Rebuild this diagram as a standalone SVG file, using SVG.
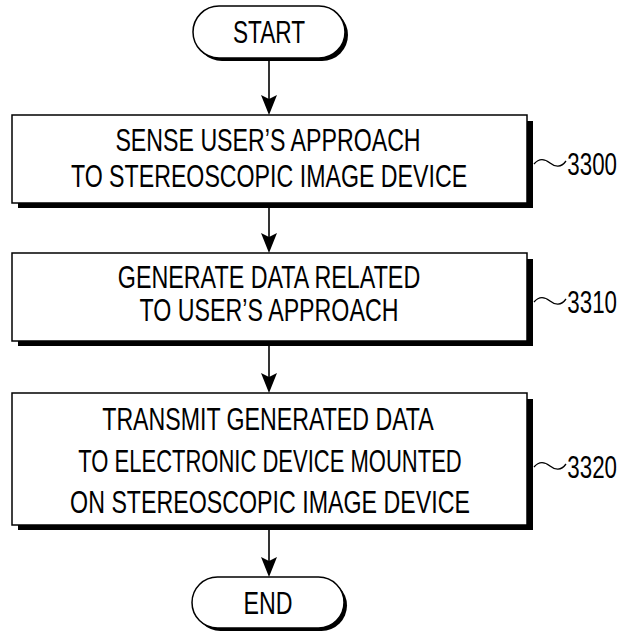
<svg xmlns="http://www.w3.org/2000/svg" width="623" height="635" viewBox="0 0 623 635">
<style>
.t{font-family:"Liberation Sans",Arial,sans-serif;font-size:31px;fill:#000;text-anchor:middle}
.n{font-family:"Liberation Sans",Arial,sans-serif;font-size:31px;fill:#000;text-anchor:end}
.box{fill:#fff;stroke:#000;stroke-width:1.5}
.sh{fill:#000}
.ln{stroke:#000;stroke-width:1.6;fill:none}
.tl{stroke:#000;stroke-width:1.3;fill:none}
.ah{fill:#000}
</style>
<rect width="623" height="635" fill="#fff"/>
<g id="connectors">
<line class="ln" x1="269" y1="60" x2="269" y2="110"/>
<path class="ah" d="M261,95 L269,99 L277,95 L269,115 Z"/>
<line class="ln" x1="269" y1="208" x2="269" y2="248"/>
<path class="ah" d="M261,233 L269,237 L277,233 L269,253 Z"/>
<line class="ln" x1="269" y1="346" x2="269" y2="388"/>
<path class="ah" d="M261,373 L269,377 L277,373 L269,393 Z"/>
<line class="ln" x1="269" y1="530" x2="269" y2="572"/>
<path class="ah" d="M261,557 L269,561 L277,557 L269,577 Z"/>
</g>
<g id="start">
<rect class="sh" x="196" y="9" width="152" height="52" rx="26"/>
<rect class="box" x="193" y="6" width="152" height="52" rx="26"/>
<text class="t" transform="translate(269,43) scale(0.73,1)">START</text>
</g>
<g id="s3300">
<rect class="sh" x="18" y="121" width="515" height="87"/>
<rect class="box" x="12" y="115" width="515" height="88"/>
<text class="t" transform="translate(268,151) scale(0.748,1)">SENSE USER’S APPROACH</text>
<text class="t" transform="translate(269,187) scale(0.748,1)">TO STEREOSCOPIC IMAGE DEVICE</text>
<path class="tl" d="M534,164 C539,158 545,159 550,163 S561,168 566,161"/>
<text class="n" transform="translate(617,175) scale(0.72,1)">3300</text>
</g>
<g id="s3310">
<rect class="sh" x="18" y="259" width="515" height="87"/>
<rect class="box" x="12" y="253" width="515" height="88"/>
<text class="t" transform="translate(269,288) scale(0.752,1)">GENERATE DATA RELATED</text>
<text class="t" transform="translate(269,321) scale(0.749,1)">TO USER’S APPROACH</text>
<path class="tl" d="M534,302 C539,296 545,297 550,301 S561,306 566,299"/>
<text class="n" transform="translate(617,313) scale(0.72,1)">3310</text>
</g>
<g id="s3320">
<rect class="sh" x="18" y="399" width="515" height="131"/>
<rect class="box" x="12" y="393" width="515" height="132"/>
<text class="t" transform="translate(268,430) scale(0.747,1)">TRANSMIT GENERATED DATA</text>
<text class="t" transform="translate(270,472) scale(0.71,1)">TO ELECTRONIC DEVICE MOUNTED</text>
<text class="t" transform="translate(270,513) scale(0.749,1)">ON STEREOSCOPIC IMAGE DEVICE</text>
<path class="tl" d="M534,467 C539,461 545,462 550,466 S561,471 566,464"/>
<text class="n" transform="translate(617,478) scale(0.72,1)">3320</text>
</g>
<g id="end">
<rect class="sh" x="195" y="580" width="152" height="51" rx="25.5"/>
<rect class="box" x="192" y="577" width="152" height="51" rx="25.5"/>
<text class="t" transform="translate(268,614) scale(0.749,1)">END</text>
</g>
</svg>
